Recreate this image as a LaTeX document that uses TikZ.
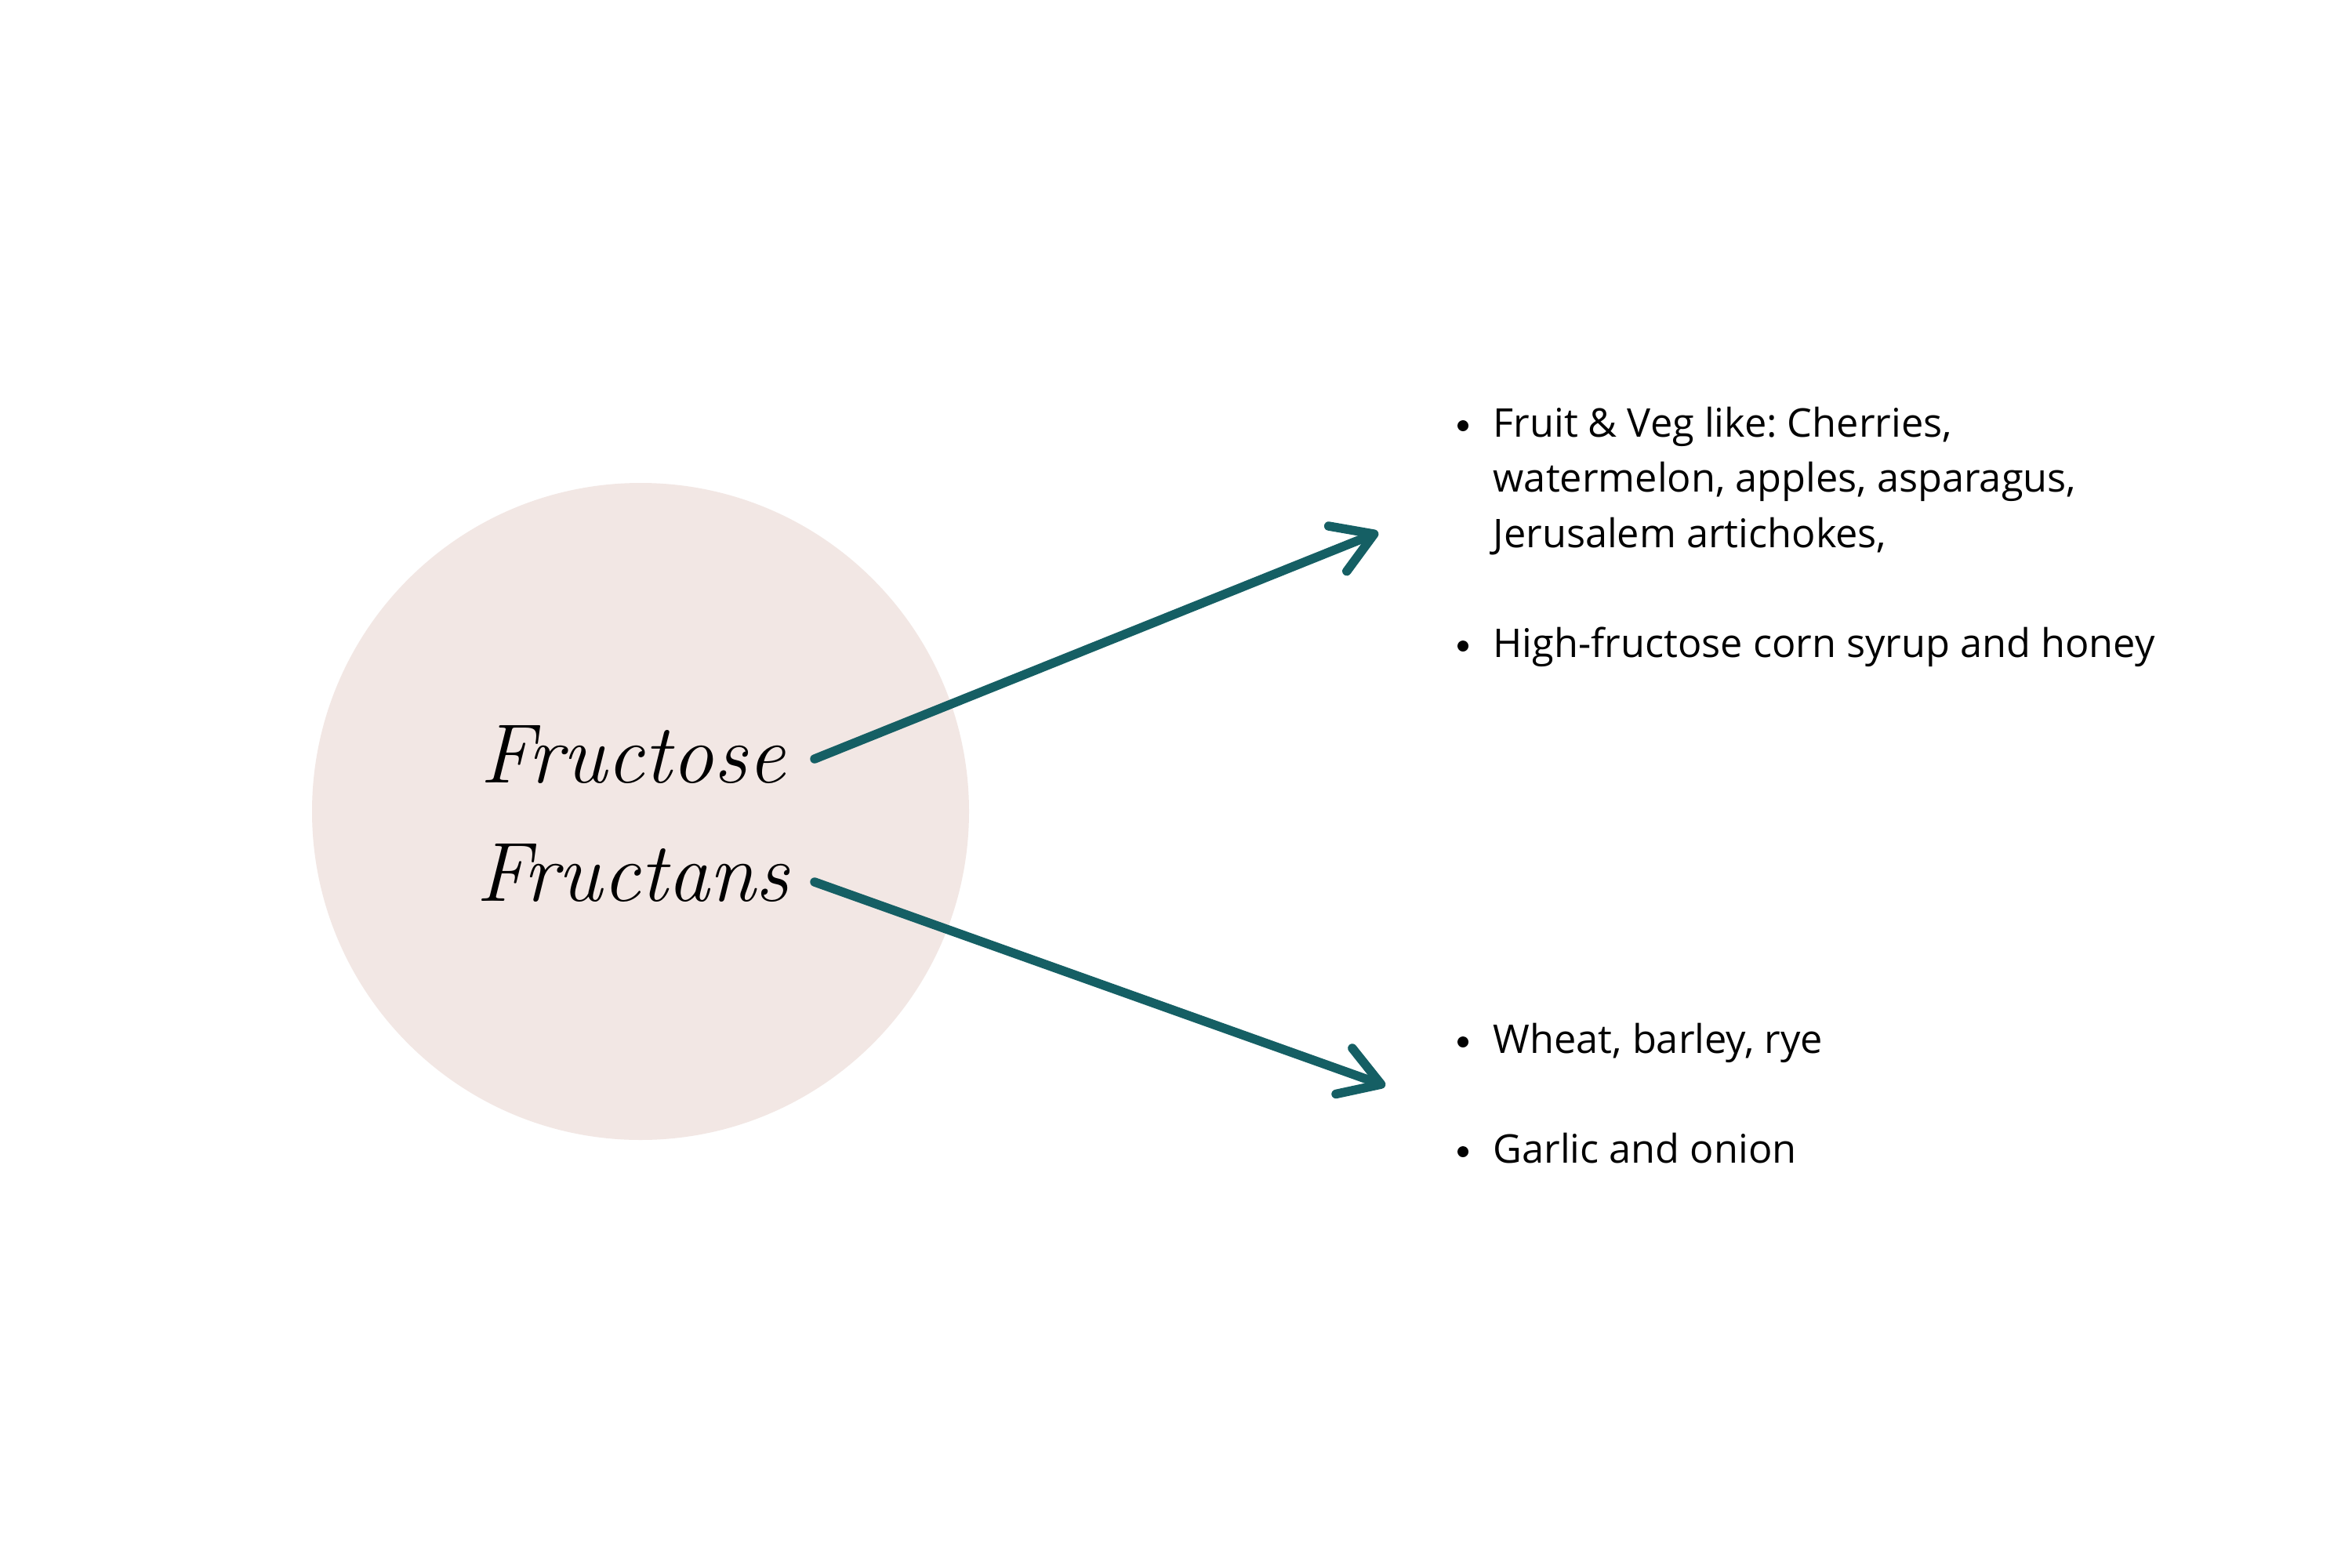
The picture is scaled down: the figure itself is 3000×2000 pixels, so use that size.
\documentclass[tikz,border=0pt]{standalone}
\usepackage{fontspec}
\setmainfont{Open Sans}
\newfontfamily\headfont{Latin Modern Roman}
\usetikzlibrary{arrows.meta}
\definecolor{blush}{HTML}{F2E7E4}
\definecolor{teal}{HTML}{155F64}
\frenchspacing
\begin{document}
\begin{tikzpicture}[x=0.01cm,y=-0.01cm,
  listtext/.style={anchor=base west,inner sep=0pt,font=\fontsize{14.35pt}{20pt}\selectfont,text=black},
  bul/.style={circle,fill=black,inner sep=0pt,minimum size=0.14cm},
  arrowline/.style={draw=teal,line width=0.115cm,line cap=round,
     -{Straight Barb[length=0.5cm,width=0.62cm,round]}}]
\useasboundingbox[fill=white] (0,0) rectangle (3000,2000);
\fill[blush] (817,1035) circle (419);
\node[inner sep=0pt,align=center,font=\headfont\itshape\fontsize{30.5pt}{43pt}\selectfont] (head) at (807,1038) {Fructose\\Fructans};
\coordinate (s1) at (1039,968);
\coordinate (t1) at (1758,679);
\coordinate (s2) at (1039,1125);
\coordinate (t2) at (1767,1385);
\draw[arrowline] (s1) -- (t1);
\draw[arrowline] (s2) -- (t2);
\node[bul] (b1) at (1866,543) {};
\node[listtext] (l1a) at (1904,557) {Fruit \& Veg like: Cherries,};
\node[listtext] (l1b) at (1904,627) {watermelon, apples, asparagus,};
\node[listtext] (l1c) at (1904,698) {Jerusalem artichokes,};
\node[bul] (b2) at (1866,824) {};
\node[listtext] (l2) at (1904,838) {High-fructose corn syrup and honey};
\node[bul] (b3) at (1866,1329) {};
\node[listtext] (l3) at (1904,1343) {Wheat, barley, rye};
\node[bul] (b4) at (1866,1469) {};
\node[listtext] (l4) at (1904,1483) {Garlic and onion};
\end{tikzpicture}
\end{document}
